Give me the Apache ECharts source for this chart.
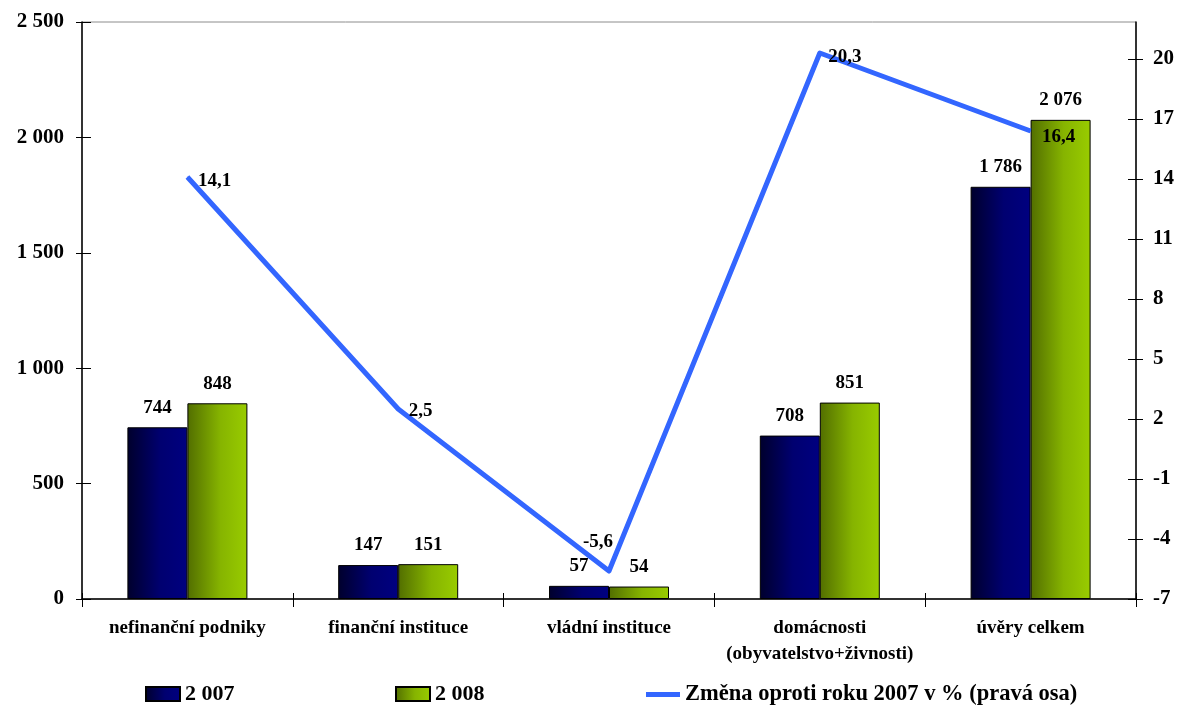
<!DOCTYPE html>
<html>
<head>
<meta charset="utf-8">
<script src="https://cdn.jsdelivr.net/npm/echarts@6/dist/echarts.min.js"></script>
<style>
  html, body { margin: 0; padding: 0; background: #ffffff; }
  #chart { width: 1179px; height: 706px; }
</style>
</head>
<body>
<div id="chart"></div>
<script>
// Úvěry podle sektorů (mld. Kč) a meziroční změna v %
const categories = [
  'nefinanční podniky',
  'finanční instituce',
  'vládní instituce',
  'domácnosti\n(obyvatelstvo+živnosti)',
  'úvěry celkem'
];
const seriesNames = ['2 007', '2 008', 'Změna oproti roku 2007 v % (pravá osa)'];
const values2007 = [744, 147, 57, 708, 1786];
const values2008 = [848, 151, 54, 851, 2076];
const changePct = [14.1, 2.5, -5.6, 20.3, 16.4];
const leftTicks = [0, 500, 1000, 1500, 2000, 2500];
const rightTicks = [-7, -4, -1, 2, 5, 8, 11, 14, 17, 20];

const FONT = "'Liberation Serif', 'Times New Roman', serif";
const RIGHT_MIN = -7;
const RIGHT_MAX = 21.85;

// "1786" -> "1 786"
function spaced(v) {
  return String(v).replace(/\B(?=(\d{3})+(?!\d))/g, ' ');
}
// 14.1 -> "14,1"
function decComma(v) {
  return v.toFixed(1).replace('.', ',');
}

// label placement for each point of the change line
const lineLabelPlacement = [
  { position: 'right', distance: 10, offset: [0, 4] },
  { position: 'right', distance: 10, offset: [0, 2] },
  { position: 'top', distance: 5, offset: [-11, -14] },
  { position: 'right', distance: 8, offset: [0, 4] },
  { position: 'right', distance: 11, offset: [0, 6] }
];

const gridBox = { left: 82, right: 43, top: 22, bottom: 107 };

const navyFill = new echarts.graphic.LinearGradient(0, 0, 1, 0, [
  { offset: 0, color: '#00002c' },
  { offset: 0.55, color: '#000070' },
  { offset: 1, color: '#000080' }
]);
const greenFill = new echarts.graphic.LinearGradient(0, 0, 1, 0, [
  { offset: 0, color: '#526e00' },
  { offset: 0.55, color: '#86b400' },
  { offset: 1, color: '#99cc00' }
]);

const barLabel = {
  show: true,
  position: 'top',
  distance: 10,
  fontFamily: FONT,
  fontWeight: 'bold',
  fontSize: 19,
  color: '#000000',
  formatter: p => spaced(p.value)
};

const legendText = {
  fontFamily: FONT,
  fontWeight: 'bold',
  fontSize: 22,
  color: '#000000'
};

const chart = echarts.init(document.getElementById('chart'), null, { renderer: 'canvas' });

chart.setOption({
  animation: false,
  backgroundColor: '#ffffff',
  grid: [
    Object.assign({ show: true, borderColor: '#8c8c8c', borderWidth: 1, backgroundColor: 'transparent' }, gridBox),
    Object.assign({ show: false }, gridBox)
  ],
  legend: [
    {
      data: [seriesNames[0]], left: 145, top: 683, itemWidth: 34, itemHeight: 14, icon: 'rect',
      textStyle: legendText, itemGap: 0, padding: 0
    },
    {
      data: [seriesNames[1]], left: 395, top: 683, itemWidth: 34, itemHeight: 14, icon: 'rect',
      textStyle: legendText, itemGap: 0, padding: 0
    },
    {
      data: [seriesNames[2]], left: 646, top: 683, itemWidth: 34, itemHeight: 5, icon: 'rect',
      textStyle: Object.assign({}, legendText, { fontSize: 22.5 }), itemGap: 0, padding: 0
    }
  ],
  xAxis: [
    {
      type: 'category',
      gridIndex: 0,
      data: categories,
      boundaryGap: true,
      axisLine: { lineStyle: { color: '#000000', width: 1.5 } },
      axisTick: { show: true, inside: false, length: 8, lineStyle: { color: '#000000' } },
      axisLabel: {
        margin: 16,
        fontFamily: FONT,
        fontWeight: 'bold',
        fontSize: 19,
        lineHeight: 26,
        color: '#000000',
        interval: 0
      },
      splitLine: { show: false }
    },
    {
      // inner half of the category tick marks
      type: 'category',
      gridIndex: 1,
      data: categories,
      boundaryGap: true,
      axisLine: { show: false },
      axisTick: { show: true, inside: true, length: 6, lineStyle: { color: '#000000' } },
      axisLabel: { show: false },
      splitLine: { show: false }
    }
  ],
  yAxis: [
    {
      type: 'value',
      gridIndex: 0,
      position: 'left',
      min: leftTicks[0],
      max: leftTicks[leftTicks.length - 1],
      interval: leftTicks[1] - leftTicks[0],
      axisLine: { show: true, lineStyle: { color: '#000000', width: 1.5 } },
      axisTick: { show: true, inside: false, length: 6, lineStyle: { color: '#000000' } },
      axisLabel: {
        margin: 18,
        fontFamily: FONT,
        fontWeight: 'bold',
        fontSize: 21,
        color: '#000000',
        formatter: v => spaced(v)
      },
      splitLine: { show: false }
    },
    {
      type: 'value',
      gridIndex: 0,
      position: 'right',
      min: RIGHT_MIN,
      max: RIGHT_MAX,
      axisLine: { show: true, lineStyle: { color: '#000000', width: 1.5 } },
      axisTick: { show: true, inside: false, length: 7, customValues: rightTicks, lineStyle: { color: '#000000' } },
      axisLabel: {
        margin: 17,
        customValues: rightTicks,
        fontFamily: FONT,
        fontWeight: 'bold',
        fontSize: 21,
        color: '#000000',
        formatter: v => String(v)
      },
      splitLine: { show: false }
    },
    {
      // inner half of the left tick marks
      type: 'value',
      gridIndex: 1,
      position: 'left',
      min: leftTicks[0],
      max: leftTicks[leftTicks.length - 1],
      interval: leftTicks[1] - leftTicks[0],
      axisLine: { show: false },
      axisTick: { show: true, inside: true, length: 9, lineStyle: { color: '#000000' } },
      axisLabel: { show: false },
      splitLine: { show: false }
    },
    {
      // inner half of the right tick marks
      type: 'value',
      gridIndex: 1,
      position: 'right',
      min: RIGHT_MIN,
      max: RIGHT_MAX,
      axisLine: { show: false },
      axisTick: { show: true, inside: true, length: 8, customValues: rightTicks, lineStyle: { color: '#000000' } },
      axisLabel: { show: false },
      splitLine: { show: false }
    }
  ],
  series: [
    {
      name: seriesNames[0],
      type: 'bar',
      xAxisIndex: 0,
      yAxisIndex: 0,
      data: values2007,
      barWidth: 60,
      barGap: '0%',
      itemStyle: { color: navyFill, borderColor: '#000000', borderWidth: 1 },
      label: barLabel,
      z: 2
    },
    {
      name: seriesNames[1],
      type: 'bar',
      xAxisIndex: 0,
      yAxisIndex: 0,
      data: values2008,
      barWidth: 60,
      barGap: '0%',
      itemStyle: { color: greenFill, borderColor: '#000000', borderWidth: 1 },
      label: barLabel,
      z: 2
    },
    {
      name: seriesNames[2],
      type: 'line',
      xAxisIndex: 0,
      yAxisIndex: 1,
      symbol: 'circle',
      symbolSize: 1,
      showSymbol: true,
      data: changePct.map((v, i) => ({
        value: v,
        label: Object.assign({ show: true }, lineLabelPlacement[i])
      })),
      lineStyle: { color: '#3366ff', width: 5, join: 'round' },
      itemStyle: { color: '#3366ff' },
      label: {
        show: true,
        fontFamily: FONT,
        fontWeight: 'bold',
        fontSize: 19,
        color: '#000000',
        formatter: p => decComma(p.value)
      },
      z: 5
    }
  ]
});
</script>
</body>
</html>
